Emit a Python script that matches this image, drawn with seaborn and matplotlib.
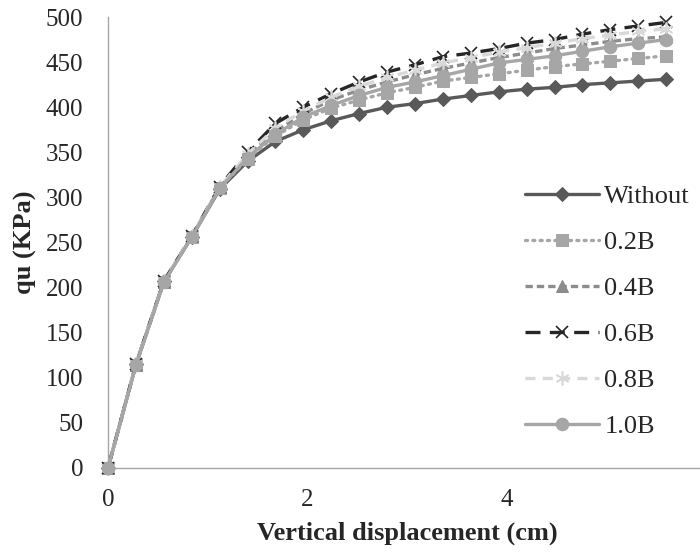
import matplotlib
matplotlib.use("Agg")
import matplotlib.pyplot as plt
import seaborn as sns
import pandas as pd

# displacement (cm), 21 readings
displacement = [0, 0.28, 0.56, 0.84, 1.12, 1.40, 1.68, 1.96, 2.24, 2.52, 2.80,
                3.08, 3.36, 3.64, 3.92, 4.20, 4.48, 4.76, 5.04, 5.32, 5.60]

qu_without = [0, 115, 207, 256, 309, 340, 362, 375, 385, 393, 400,
              404, 409, 413, 417, 420, 422, 425, 427, 429, 431]
qu_02b = [0, 114, 206, 256, 310, 343, 368, 386, 399, 408, 416,
          422, 429, 433, 437, 441, 445, 448, 451, 454, 457]
qu_04b = [0, 114, 206, 257, 311, 346, 373, 393, 408, 419, 428,
          436, 443, 449, 455, 460, 465, 469, 473, 476, 478]
qu_06b = [0, 115, 207, 257, 312, 350, 382, 400, 415, 428, 439,
          447, 456, 460, 465, 471, 475, 481, 486, 490, 494]
qu_08b = [0, 115, 207, 257, 311, 348, 377, 396, 411, 423, 433,
          441, 449, 455, 461, 466, 471, 476, 480, 484, 487]
qu_10b = [0, 114, 206, 256, 310, 344, 370, 389, 402, 413, 422,
          428, 435, 442, 449, 453, 457, 462, 467, 471, 475]

series_names = ["Without", "0.2B", "0.4B", "0.6B", "0.8B", "1.0B"]
series_values = [qu_without, qu_02b, qu_04b, qu_06b, qu_08b, qu_10b]
x_ticks = [0, 2, 4]
y_ticks = list(range(0, 501, 50))

styles = {
    "Without": dict(color="#595959", linestyle="-", marker="D", markersize=7, lw=2.4),
    "0.2B": dict(color="#A6A6A6", linestyle=(0, (0.6, 1.6)), marker="s", markersize=9, lw=2.4,
                 dash_capstyle="round"),
    "0.4B": dict(color="#8C8C8C", linestyle=(0, (2.2, 1.2)), marker="^", markersize=9, lw=2.4),
    "0.6B": dict(color="#262626", linestyle=(0, (4.5, 2.8)), marker="x", markersize=9, lw=2.4,
                 mew=1.2),
    "0.8B": dict(color="#D9D9D9", linestyle=(0, (3.0, 2.2)), marker=(6, 2, 0), markersize=10,
                 lw=2.4, mew=1.2),
    "1.0B": dict(color="#A6A6A6", linestyle="-", marker="o", markersize=9, lw=2.4),
}

sns.set_style("white")
plt.rcParams["font.family"] = ["Liberation Serif", "DejaVu Serif"]

fig = plt.figure(figsize=(7.0, 5.58), dpi=100)
ax = fig.add_axes([108 / 700, 90 / 558, 598 / 700, 451 / 558])

for name, vals in zip(series_names, series_values):
    df = pd.DataFrame({"x": displacement, "y": vals})
    st = dict(styles[name])
    sns.lineplot(data=df, x="x", y="y", ax=ax, label=name,
                 color=st.pop("color"), mec=None, clip_on=False, **st)

ax.set_xlim(0, 6)
ax.set_ylim(0, 500)
ax.set_xticks(x_ticks)
ax.set_yticks(y_ticks)
ax.tick_params(axis="both", length=0, labelsize=18)
ax.tick_params(axis="x", pad=15)
ax.tick_params(axis="y", pad=18)

for side in ["top", "right"]:
    ax.spines[side].set_visible(False)
for side in ["left", "bottom"]:
    ax.spines[side].set_color("#A6A6A6")
    ax.spines[side].set_linewidth(1.0)

ax.set_xlabel("Vertical displacement (cm)", fontsize=19, fontweight="bold", labelpad=8)
ax.set_ylabel("qu (KPa)", fontsize=19, fontweight="bold", labelpad=6)

leg = ax.legend(loc="upper left", bbox_to_anchor=(0.68, 0.651), frameon=False,
                fontsize=19, handlelength=2.8, handletextpad=0.2, labelspacing=0.85,
                borderaxespad=0)

fig.savefig("out.png", dpi=100)
